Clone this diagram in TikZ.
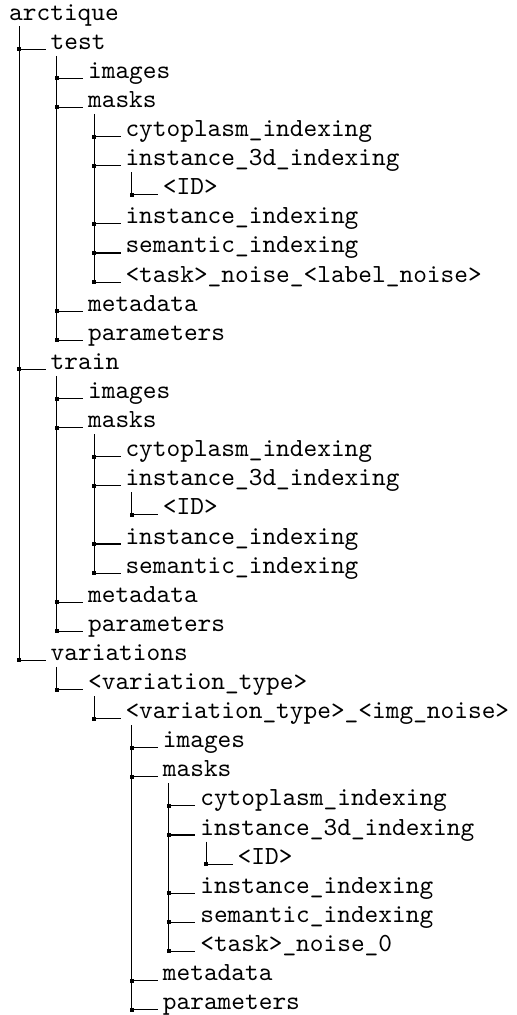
\documentclass[tikz,border=0pt]{standalone}
\usepackage{fontspec}
\newfontfamily\treefont{lmmono10-regular.otf}
\begin{document}
\begin{tikzpicture}[x=0.5pt,y=-0.5pt,
  entry/.style={anchor=base west, inner xsep=2.25pt, inner ysep=0pt,
    font=\treefont\fontsize{13.05}{15}\selectfont},
  rootentry/.style={entry, inner xsep=0pt},
  branch/.style={line width=0.55pt},
  trunk/.style={line width=0.55pt}]
\useasboundingbox (0,0) rectangle (517,1015);

% one directory entry: #1 name, #2 depth, #3 row, #4 label
% (name-d) is the branch point on the parent's trunk,
% (name-t) is the top of the trunk that carries its own children
\newcommand\treeentry[4]{%
  \coordinate (#1-d) at ({19.3+(#2-1)*37.4}, {49.3+(#3-2)*29.1});
  \node[entry] (#1) at ({19.3+(#2-1)*37.4+26.5}, {49.3+(#3-2)*29.1}) {#4};
  \coordinate (#1-t) at ({19.3+#2*37.4}, {49.3+(#3-2)*29.1+6.5});
  \draw[branch] (#1-d) -- (#1.base west);
  \fill (#1-d) ++(-1pt,-1pt) rectangle ++(2pt,2pt);
}

% root
\node[rootentry] (r) at (8.8,20.2) {arctique};
\coordinate (r-t) at (19.3,26.5);

% test
\treeentry{t}{1}{2}{test}
\treeentry{ti}{2}{3}{images}
\treeentry{tm}{2}{4}{masks}
\treeentry{tmc}{3}{5}{cytoplasm\_indexing}
\treeentry{tm3}{3}{6}{instance\_3d\_indexing}
\treeentry{tm3i}{4}{7}{<ID>}
\treeentry{tmi}{3}{8}{instance\_indexing}
\treeentry{tms}{3}{9}{semantic\_indexing}
\treeentry{tmn}{3}{10}{<task>\_noise\_<label\_noise>}
\treeentry{td}{2}{11}{metadata}
\treeentry{tp}{2}{12}{parameters}

% train
\treeentry{a}{1}{13}{train}
\treeentry{ai}{2}{14}{images}
\treeentry{am}{2}{15}{masks}
\treeentry{amc}{3}{16}{cytoplasm\_indexing}
\treeentry{am3}{3}{17}{instance\_3d\_indexing}
\treeentry{am3i}{4}{18}{<ID>}
\treeentry{ami}{3}{19}{instance\_indexing}
\treeentry{ams}{3}{20}{semantic\_indexing}
\treeentry{ad}{2}{21}{metadata}
\treeentry{ap}{2}{22}{parameters}

% variations
\treeentry{v}{1}{23}{variations}
\treeentry{vt}{2}{24}{<variation\_type>}
\treeentry{vn}{3}{25}{<variation\_type>\_<img\_noise>}
\treeentry{vni}{4}{26}{images}
\treeentry{vnm}{4}{27}{masks}
\treeentry{vnmc}{5}{28}{cytoplasm\_indexing}
\treeentry{vnm3}{5}{29}{instance\_3d\_indexing}
\treeentry{vnm3i}{6}{30}{<ID>}
\treeentry{vnmi}{5}{31}{instance\_indexing}
\treeentry{vnms}{5}{32}{semantic\_indexing}
\treeentry{vnmn}{5}{33}{<task>\_noise\_0}
\treeentry{vnd}{4}{34}{metadata}
\treeentry{vnp}{4}{35}{parameters}

% trunks: from below each parent down to its last child
\draw[trunk] (r-t) -- (v-d);
\draw[trunk] (t-t) -- (tp-d);
\draw[trunk] (tm-t) -- (tmn-d);
\draw[trunk] (tm3-t) -- (tm3i-d);
\draw[trunk] (a-t) -- (ap-d);
\draw[trunk] (am-t) -- (ams-d);
\draw[trunk] (am3-t) -- (am3i-d);
\draw[trunk] (v-t) -- (vt-d);
\draw[trunk] (vt-t) -- (vn-d);
\draw[trunk] (vn-t) -- (vnp-d);
\draw[trunk] (vnm-t) -- (vnmn-d);
\draw[trunk] (vnm3-t) -- (vnm3i-d);
\end{tikzpicture}
\end{document}
